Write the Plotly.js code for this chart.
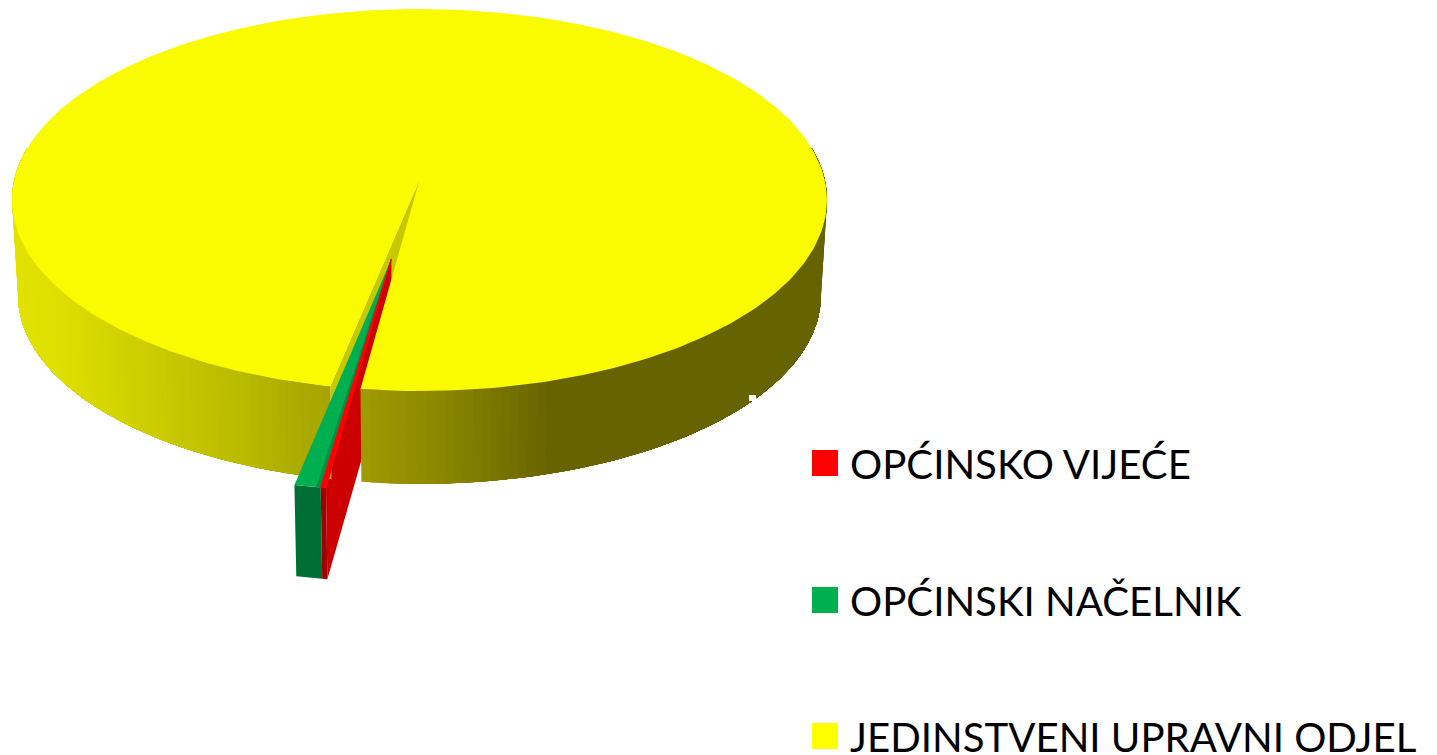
<!DOCTYPE html>
<html>
<head>
<meta charset="utf-8">
<script src="https://cdn.plot.ly/plotly-3.0.1.min.js"></script>
<style>html,body{margin:0;padding:0;background:#fff;overflow:hidden}#chart{width:1437px;height:755px}</style>
</head>
<body>
<div id="chart"></div>
<script>
// Data (share of total, %)
const categories = ["OPĆINSKO VIJEĆE", "OPĆINSKI NAČELNIK", "JEDINSTVENI UPRAVNI ODJEL"];
const shares = [0.18, 0.9, 98.92];
const topColors = ["#ff0000", "#00b050", "#fafa00"];
const legendColors = ["#ff0000", "#00b050", "#ffff00"];

// View parameters of the 3D pie
const firstSliceAngle = 7.5, explode = 0.406;
const A = 405.2, a = 188.9, b = 0.1047;
const cx = 419.5, topCy = 180, botCy = 276, botScale = 0.985;
const wallLeft = [[15,[226,226,0]],[60,[222,222,0]],[100,[214,214,0]],[170,[200,200,0]],[250,[184,184,0]],[300,[170,170,0]],[335,[168,164,0]]];
const wallRight = [[355,[160,156,0]],[430,[142,138,0]],[500,[120,116,0]],[550,[103,100,0]],[840,[102,100,0]]];

function proj(X, Y, bottom) {
  const s = bottom ? botScale : 1, cy = bottom ? botCy : topCy, d = 1 - b * Y;
  return [cx + s * A * X / d, cy + s * a * Y / d];
}
function pt(phi, off, bottom) {
  const t = phi * Math.PI / 180;
  return proj(off[0] - Math.sin(t), off[1] + Math.cos(t), bottom);
}
function arc(p0, p1, off, bottom, n) {
  const out = [];
  for (let i = 0; i <= n; i++) out.push(pt(p0 + (p1 - p0) * i / n, off, bottom));
  return out;
}
function poly(points, color, stroke) {
  const xs = points.map(p => p[0]), ys = points.map(p => p[1]);
  xs.push(xs[0]); ys.push(ys[0]);
  return {type:"scatter", mode:"lines", x:xs, y:ys, fill:"toself", fillcolor:color,
          line:{width:stroke || 0, color:color}, hoverinfo:"skip", showlegend:false};
}
function ramp(stops, x) {
  if (x <= stops[0][0]) return stops[0][1];
  for (let i = 1; i < stops.length; i++) {
    if (x <= stops[i][0]) {
      const f = (x - stops[i-1][0]) / (stops[i][0] - stops[i-1][0]);
      return stops[i-1][1].map((c, k) => c + (stops[i][1][k] - c) * f);
    }
  }
  return stops[stops.length-1][1];
}
const rgb = c => "rgb(" + c.map(Math.round).join(",") + ")";

// Slice angles from the data
let acc = firstSliceAngle;
const slices = shares.map(v => { const s = acc; acc += v * 3.6; return {start:s, end:acc, mid:(s+acc)/2}; });
const [red, green, yellow] = slices;
const midAngle = (red.start + green.end) / 2 * Math.PI / 180;
const none = [0,0], pulled = [-explode*Math.sin(midAngle), explode*Math.cos(midAngle)];

function cutFace(phi, off, color) {
  return poly([proj(off[0],off[1],false), pt(phi,off,false), pt(phi,off,true), proj(off[0],off[1],true)], color);
}
function wall(p0, p1, off, color, n, stroke) {
  return poly(arc(p0,p1,off,false,n).concat(arc(p0,p1,off,true,n).reverse()), color, stroke);
}
function topFace(p0, p1, off, color, n, stroke) {
  return poly([proj(off[0],off[1],false)].concat(arc(p0,p1,off,false,n)), color, stroke);
}

const traces = [];
// yellow inner cut wall
traces.push(cutFace(yellow.start, none, "#c8c800"));
// red cut face seen through the gap
traces.push(cutFace(red.start, pulled, "#cc0000"));
// yellow outer wall: shaded bands, each painted from its start to the far end so no seams show
const N = 90, leftEnd = 100, rightEnd = -100;
function shadedWall(p0, pEnd, stops) {
  for (let i = 0; i < N; i++) {
    const a0 = p0 + (pEnd - p0) * i / N, a1 = p0 + (pEnd - p0) * (i + 1) / N;
    traces.push(wall(a0, pEnd, none, rgb(ramp(stops, pt((a0+a1)/2,none,false)[0])), (N - i) + 1));
  }
}
shadedWall(yellow.start, leftEnd, wallLeft);
shadedWall(red.start, rightEnd, wallRight);
// yellow top
traces.push(topFace(yellow.start, yellow.end, none, topColors[2], 360));
// green slice
traces.push(wall(green.start, green.end, pulled, "#006f36", 6));
traces.push(topFace(green.start, green.end, pulled, topColors[1], 6));
traces.push(topFace(green.start, green.start + 0.5, pulled, "#009046", 2, 1));
// red slice
traces.push(wall(red.start, red.end, pulled, "#a00000", 3));
traces.push(topFace(red.start, red.end, pulled, topColors[0], 3, 1));

// Legend keys
const legendX = 825, legendTextX = 848, legendY = [463, 600, 736];
categories.forEach((c, i) => traces.push({
  type:"scatter", mode:"markers", x:[legendX], y:[legendY[i]], name:c,
  marker:{symbol:"square", size:26, color:legendColors[i]}, hoverinfo:"name", showlegend:false, cliponaxis:false
}));

const layout = {
  width:1437, height:755, margin:{l:0,r:0,t:0,b:0},
  paper_bgcolor:"#fff", plot_bgcolor:"#fff", showlegend:false,
  xaxis:{range:[0,1437], visible:false, fixedrange:true},
  yaxis:{range:[755,0], visible:false, fixedrange:true},
  annotations: categories.map((c,i)=>({
    x:legendTextX, y:legendY[i], xref:"x", yref:"y", text:c, showarrow:false, xanchor:"left", yanchor:"middle",
    font:{family:"Lato, 'Open Sans', sans-serif", size:40.2, color:"#000"}
  })),
  shapes:[{type:"rect", x0:749, x1:756, y0:395, y1:401, fillcolor:"#fff", line:{width:0}}]
};
Plotly.newPlot("chart", traces, layout, {displayModeBar:false, staticPlot:true});
</script>
</body>
</html>
